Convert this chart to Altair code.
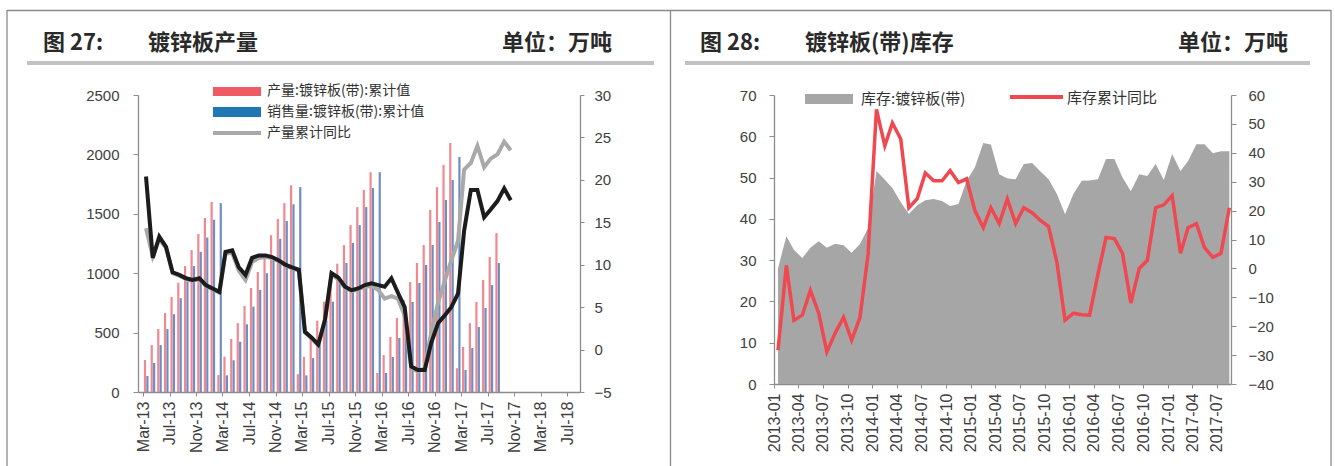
import altair as alt
import pandas as pd

# ---------------- Left chart (图27 镀锌板产量) ----------------
left_start = "2013-03-01"
prod_cum = [270, 395, 530, 665, 800, 920, 1060, 1195, 1330, 1465, 1600, 143,
            297, 446, 580, 724, 875, 1010, 1160, 1320, 1456, 1590, 1740, 150,
            297, 450, 600, 760, 920, 1080, 1237, 1405, 1557, 1700, 1850, 160,
            311, 463, 623, 775, 926, 1086, 1237, 1532, 1725, 1910, 2096, 200,
            380, 580, 758, 943, 1136, 1338]
sales_cum = [135, 245, 395, 530, 655, 790, 930, 1060, 1180, 1300, 1450, 1590,
             140, 267, 423, 570, 718, 860, 1000, 1140, 1290, 1440, 1580, 1725,
             140, 285, 440, 600, 760, 920, 1086, 1254, 1405, 1557, 1717, 1850,
             160, 295, 455, 610, 758, 918, 1069, 1237, 1431, 1616, 1785, 1978,
             185, 370, 547, 707, 900, 1086]
sales_yoy = [20.4, 10.8, 13.3, 12.1, 9.1, 8.8, 8.4, 8.2, 8.4, 7.6, 7.2, 6.8,
             11.5, 11.7, 9.7, 8.8, 10.8, 11.1, 11.1, 10.9, 10.5, 10.0, 9.7, 9.4,
             2.1, 1.4, 0.6, 3.5, 9.0, 8.5, 7.4, 7.0, 7.2, 7.6, 7.8, 7.6,
             7.4, 8.4, 6.7, 5.0, -2.0, -2.4, -2.4, 0.8, 3.1, 4.0, 5.0, 6.6,
             14.0, 18.8, 18.8, 15.6, 16.5, 17.5, 19.0, 17.6]
prod_yoy = [14.3, 11.0, 13.0, 12.0, 9.0, 8.7, 8.3, 8.1, 8.3, 7.5, 7.1, 6.7,
            11.3, 11.4, 9.3, 8.2, 10.3, 10.8, 10.9, 10.8, 10.4, 9.9, 9.6, 9.3,
            2.0, 1.3, 0.5, 3.4, 8.8, 8.3, 7.3, 6.9, 7.1, 7.4, 7.5, 7.0,
            6.0, 6.3, 6.0, 4.0, -2.2, -2.6, -2.2, 2.0, 5.5, 8.0, 10.5, 12.8,
            21.2, 22.0, 24.0, 21.5, 22.5, 23.0, 24.5, 23.5]
left_tick_labels = ["Mar-13", "Jul-13", "Nov-13", "Mar-14", "Jul-14", "Nov-14",
                    "Mar-15", "Jul-15", "Nov-15", "Mar-16", "Jul-16", "Nov-16",
                    "Mar-17", "Jul-17", "Nov-17", "Mar-18", "Jul-18"]

# ---------------- Right chart (图28 镀锌板(带)库存) ----------------
right_start = "2013-01-01"
inventory = [28, 35.8, 32.5, 30.5, 33, 34.6, 33, 34, 33.6, 31.8, 33.9, 37.8,
             51.6, 49.5, 47.5, 44, 41.2, 43.3, 44.5, 44.8, 44.3, 43.1, 43.6, 49.2,
             52.5, 58.4, 58, 50.8, 49.8, 49.6, 53.3, 53.5, 51.5, 49.6, 46, 41.1,
             46, 49.2, 49.3, 49.6, 54.5, 54.5, 50, 46.7, 50.8, 50.4, 53.3, 49.4,
             55.7, 51.6, 54, 58.1, 58.1, 55.9, 56.4, 56.4]
inv_yoy = [-28.3, 1, -18, -16.2, -7.6, -15.5, -28.9, -22.4, -16.9, -24.8, -16.9, 5,
           55, 42.4, 50.3, 44.8, 21, 24.1, 33, 30.3, 30.3, 33.8, 29.7, 31,
           20, 14.1, 21, 15.5, 24, 15.5, 21, 19.3, 16.6, 14.5, 2, -17.9,
           -15.5, -16, -16.2, -2, 10.7, 10.3, 5.2, -12, 0, 2.8, 21, 22,
           25.2, 5.2, 14.1, 15.5, 7.2, 3.8, 5.2, 21]
right_tick_labels = ["2013-01", "2013-04", "2013-07", "2013-10", "2014-01", "2014-04",
                     "2014-07", "2014-10", "2015-01", "2015-04", "2015-07", "2015-10",
                     "2016-01", "2016-04", "2016-07", "2016-10", "2017-01", "2017-04",
                     "2017-07"]

# ---------------- build tables ----------------
bars_df = pd.DataFrame({
    "date": pd.date_range(left_start, periods=len(prod_cum), freq="MS"),
    "prod_cum": prod_cum,
    "sales_cum": sales_cum,
})
lines_df = pd.DataFrame({
    "date": pd.date_range(left_start, periods=len(sales_yoy), freq="MS"),
    "sales_yoy": sales_yoy,
    "prod_yoy": prod_yoy,
})
inv_df = pd.DataFrame({
    "date": pd.date_range(right_start, periods=len(inventory), freq="MS"),
    "inventory": inventory,
    "inv_yoy": inv_yoy,
})


def dt(s):
    ts = pd.Timestamp(s)
    return alt.DateTime(year=ts.year, month=ts.month, date=ts.day)


left_ticks = [dt(pd.to_datetime(t, format="%b-%y")) for t in left_tick_labels]
right_ticks = [dt(t + "-01") for t in right_tick_labels]

W, H = 1335, 466
NUM_FONT = "Liberation Sans"
CJK = "Noto Sans CJK SC"
AX = "#8c8c8c"
LBL = "#404040"
RED_BAR = "#f08890"
BLUE_BAR = "#6d8ec2"
RED_SW = "#f05a64"
BLUE_SW = "#1f77b4"
GRAY_LINE = "#a9a9a9"
BLACK_LINE = "#1c1c1c"
AREA = "#a6a6a6"
RED_LINE = "#f04850"


def axis(orient, offset, values, fmt="d", tick=5, pad=8, size=15, angle=0, time=False):
    kw = dict(orient=orient, offset=offset, values=values, title=None, grid=False,
              domainColor=AX, domainWidth=1.3, tickColor=AX, tickSize=tick,
              labelPadding=pad, labelFont=NUM_FONT, labelFontSize=size,
              labelColor=LBL, labelAngle=angle, labelOverlap=False, format=fmt)
    if time:
        kw["formatType"] = "time"
    return alt.Axis(**kw)


# left scales and axes (shared by every layer of the panel)
xl = alt.Scale(domain=[dt("2013-03-01"), dt("2018-08-06")], range=[138, 580])
ylb = alt.Scale(domain=[0, 2500], range=[392, 95])
yll = alt.Scale(domain=[-5, 30], range=[392, 95])
ax_xl = axis("bottom", 392 - H, left_ticks, fmt="%b-%y", tick=4, pad=5, size=16, angle=270, time=True)
ax_ylb = axis("left", -138, [0, 500, 1000, 1500, 2000, 2500], tick=5, pad=14)
ax_yll = axis("right", 580 - W, [-5, 0, 5, 10, 15, 20, 25, 30], tick=4, pad=10)

red = alt.Chart(bars_df).mark_bar(width=2.2, xOffset=2, color=RED_BAR).encode(
    x=alt.X("date:T", scale=xl, axis=ax_xl),
    y=alt.Y("prod_cum:Q", scale=ylb, axis=ax_ylb),
)
blue = alt.Chart(bars_df).mark_bar(width=2.2, xOffset=4.4, color=BLUE_BAR).encode(
    x=alt.X("date:T", scale=xl, axis=ax_xl),
    y=alt.Y("sales_cum:Q", scale=ylb, axis=ax_ylb),
)
gray = alt.Chart(lines_df).mark_line(color=GRAY_LINE, strokeWidth=4, xOffset=3).encode(
    x=alt.X("date:T", scale=xl, axis=ax_xl),
    y=alt.Y("prod_yoy:Q", scale=yll, axis=ax_yll),
)
black = alt.Chart(lines_df).mark_line(color=BLACK_LINE, strokeWidth=4, xOffset=3).encode(
    x=alt.X("date:T", scale=xl, axis=ax_xl),
    y=alt.Y("sales_yoy:Q", scale=yll, axis=ax_yll),
)
left_panel = alt.layer(alt.layer(red, blue), alt.layer(gray, black)).resolve_scale(y="independent")

# right scales and axes
xr = alt.Scale(domain=[dt("2013-01-01"), dt("2017-08-22")], range=[774, 1231])
yra = alt.Scale(domain=[0, 70], range=[384, 95])
yrl = alt.Scale(domain=[-40, 60], range=[384, 95])
ax_xr = axis("bottom", 384 - H, right_ticks, fmt="%Y-%m", tick=4, pad=5, size=16, angle=270, time=True)

area = alt.Chart(inv_df).mark_area(color=AREA, xOffset=4).encode(
    x=alt.X("date:T", scale=xr, axis=ax_xr),
    y=alt.Y("inventory:Q", scale=yra,
            axis=axis("left", -774, [0, 10, 20, 30, 40, 50, 60, 70], tick=5, pad=13)),
)
redline = alt.Chart(inv_df).mark_line(color=RED_LINE, strokeWidth=3.5, xOffset=4).encode(
    x=alt.X("date:T", scale=xr, axis=ax_xr),
    y=alt.Y("inv_yoy:Q", scale=yrl,
            axis=axis("right", 1231 - W, [-40, -30, -20, -10, 0, 10, 20, 30, 40, 50, 60], tick=5, pad=12)),
)
right_panel = alt.layer(area, redline).resolve_scale(y="independent")

# ---------------- decorations (frames, titles, legends) ----------------
one = alt.Data(values=[{}])


def txt(s, x, y, size=14, weight="normal", align="left", font=CJK, color="#333333"):
    return alt.Chart(one).mark_text(align=align, baseline="middle", font=font, fontSize=size,
                                    fontWeight=weight, color=color).encode(
        x=alt.value(x), y=alt.value(y), text=alt.value(s))


def hrule(x1, x2, y, color, w):
    return alt.Chart(one).mark_rule(color=color, strokeWidth=w).encode(
        x=alt.value(x1), x2=alt.value(x2), y=alt.value(y))


def vrule(x, y1, y2, color, w):
    return alt.Chart(one).mark_rule(color=color, strokeWidth=w).encode(
        x=alt.value(x), y=alt.value(y1), y2=alt.value(y2))


def box(x1, x2, y1, y2, color):
    return alt.Chart(one).mark_rect(color=color).encode(
        x=alt.value(x1), x2=alt.value(x2), y=alt.value(y1), y2=alt.value(y2))


FRAME = "#8a8a8a"
TITLE = "#2a2a2a"
deco = [
    hrule(7, 1331, 10.5, FRAME, 1.3),
    vrule(7, 10, 470, FRAME, 1.3),
    vrule(670.5, 10, 470, FRAME, 1.3),
    vrule(1331, 10, 470, FRAME, 1.3),
    hrule(27, 654, 63, "#c2c2c2", 4),
    hrule(685, 1310, 63, "#c2c2c2", 4),
    txt("图 27:", 43, 43, size=22, weight="bold", color=TITLE),
    txt("镀锌板产量", 148, 43, size=22, weight="bold", color=TITLE),
    txt("单位：万吨", 612, 43, size=22, weight="bold", align="right", color=TITLE),
    txt("图 28:", 700, 43, size=22, weight="bold", color=TITLE),
    txt("镀锌板(带)库存", 805, 43, size=22, weight="bold", color=TITLE),
    txt("单位：万吨", 1288, 43, size=22, weight="bold", align="right", color=TITLE),
    # left legend
    box(213, 261, 87, 96, RED_SW),
    txt("产量:镀锌板(带):累计值", 267, 91),
    box(213, 261, 107, 117, BLUE_SW),
    txt("销售量:镀锌板(带):累计值", 267, 112),
    hrule(213, 261, 133, GRAY_LINE, 4),
    txt("产量累计同比", 267, 133),
    # right legend
    box(805, 853, 94, 104, AREA),
    txt("库存:镀锌板(带)", 861, 99, size=15),
    hrule(1010, 1063, 97, RED_LINE, 4),
    txt("库存累计同比", 1067, 98, size=15),
]

chart = alt.layer(left_panel, right_panel, *deco).resolve_scale(
    x="independent", y="independent"
).properties(
    width=W, height=H, padding=0, autosize=alt.AutoSizeParams(type="none"),
    background="white",
).configure_view(stroke=None)

chart.save("out.html", embed_options={"renderer": "svg", "actions": False})
